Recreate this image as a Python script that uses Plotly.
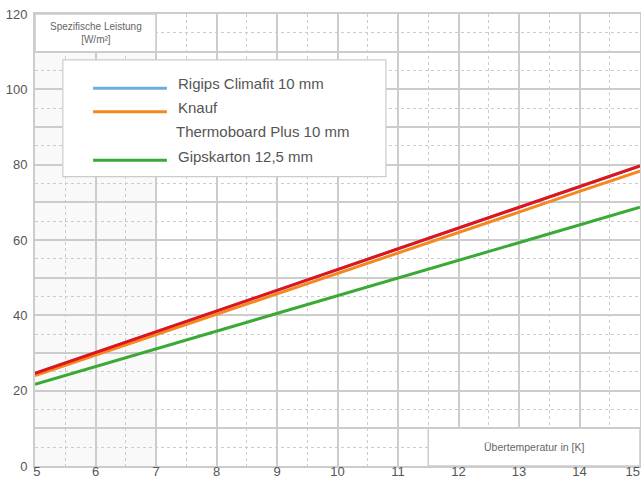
import plotly.graph_objects as go

# ---- data ----
x_vals = [5, 6, 7, 8, 9, 10, 11, 12, 13, 14, 15]
rigips = [24.6, 30.1, 35.6, 41.1, 46.6, 52.1, 57.6, 63.2, 68.7, 74.2, 79.7]
knauf = [24.0, 29.4, 34.9, 40.3, 45.8, 51.2, 56.6, 62.0, 67.4, 72.9, 78.3]
gips = [21.7, 26.4, 31.1, 35.8, 40.5, 45.2, 49.9, 54.6, 59.3, 64.0, 68.7]

legend_names = ["Rigips Climafit 10 mm", "Knauf", "Thermoboard Plus 10 mm", "Gipskarton 12,5 mm"]
y_title = "Spezifische Leistung<br>[W/m²]"
x_title = "Übertemperatur in [K]"
x_ticks = [5, 6, 7, 8, 9, 10, 11, 12, 13, 14, 15]
x_ticktext = ["\u00a05", "6", "7", "8", "9", "10", "11", "12", "13", "14", "15\u00a0\u00a0\u00a0\u00a0"]
y_ticks = [0, 10, 20, 30, 40, 50, 60, 70, 80, 90, 100, 110, 120]
y_ticktext = ["0", "", "20", "", "40", "", "60", "", "80", "", "100", "", "120"]

BLUE = "#6aaee0"
RED = "#e3131b"
ORANGE = "#f5871f"
GREEN = "#3aa935"
GRID = "#cccccc"
TXT = "#555555"
FONT = "Liberation Sans, Arial, sans-serif"

fig = go.Figure()
fig.add_trace(go.Scatter(x=x_vals, y=rigips, mode="lines", line=dict(color=BLUE, width=3), showlegend=False))
fig.add_trace(go.Scatter(x=x_vals, y=knauf, mode="lines", line=dict(color=ORANGE, width=3), showlegend=False))
fig.add_trace(go.Scatter(x=x_vals, y=gips, mode="lines", line=dict(color=GREEN, width=3), showlegend=False))
fig.add_trace(go.Scatter(x=x_vals, y=rigips, mode="lines", line=dict(color=RED, width=3), showlegend=False))

shapes = []
shapes.append(dict(type="rect", xref="x", yref="y", x0=5, x1=7, y0=0, y1=120,
                   fillcolor="#f9f9f9", line=dict(width=0), layer="below"))
shapes.append(dict(type="rect", xref="x", yref="y", x0=5, x1=7, y0=110, y1=120,
                   fillcolor="white", line=dict(color=GRID, width=1.5), layer="above"))
shapes.append(dict(type="rect", xref="x", yref="y", x0=11.5, x1=15, y0=0, y1=10,
                   fillcolor="white", line=dict(color=GRID, width=1.5), layer="above"))
shapes.append(dict(type="rect", xref="x", yref="y", x0=5.46, x1=10.8, y0=76.8, y1=107.8,
                   fillcolor="white", line=dict(color=GRID, width=1.2), layer="above"))
for yy, col in [(100.3, BLUE), (94.05, ORANGE), (81.2, GREEN)]:
    shapes.append(dict(type="line", xref="x", yref="y", x0=5.96, x1=7.18, y0=yy, y1=yy,
                       line=dict(color=col, width=3), layer="above"))

annotations = []
for name, xx, yy in [(legend_names[0], 7.33, 101.6), (legend_names[1], 7.33, 95.3),
                     (legend_names[2], 7.30, 88.7), (legend_names[3], 7.33, 82.3)]:
    annotations.append(dict(text=name, x=xx, y=yy, xref="x", yref="y", xanchor="left",
                            yanchor="middle", showarrow=False,
                            font=dict(family=FONT, size=15, color=TXT)))
annotations.append(dict(text=y_title, x=6, y=115, xref="x", yref="y", showarrow=False,
                        xanchor="center", yanchor="middle",
                        font=dict(family=FONT, size=10, color="#666666")))
annotations.append(dict(text=x_title, x=13.25, y=5, xref="x", yref="y", showarrow=False,
                        xanchor="center", yanchor="middle",
                        font=dict(family=FONT, size=10.5, color="#666666")))

fig.update_layout(
    width=641, height=479,
    margin=dict(l=35, r=1, t=14, b=13, autoexpand=False),
    paper_bgcolor="white", plot_bgcolor="white",
    showlegend=False,
    shapes=shapes, annotations=annotations,
    font=dict(family=FONT, size=13, color=TXT),
)
fig.update_xaxes(
    range=[5, 15], tickvals=x_ticks, ticktext=x_ticktext, automargin=False,
    showgrid=True, gridcolor=GRID, gridwidth=1.5,
    showline=True, linecolor=GRID, linewidth=2, mirror=True,
    ticks="", zeroline=False, tickfont=dict(size=13, color=TXT),
    ticklabelstandoff=-8, ticklabeloverflow="allow",
    minor=dict(dtick=0.5, tick0=5, showgrid=True, gridcolor=GRID, gridwidth=1, griddash="3px,3px"),
)
fig.update_yaxes(
    range=[0, 120], tickvals=y_ticks, ticktext=y_ticktext, automargin=False,
    showgrid=True, gridcolor=GRID, gridwidth=1.5,
    showline=True, linecolor=GRID, linewidth=2, mirror=True,
    ticks="outside", ticklen=3, tickcolor="rgba(0,0,0,0)", zeroline=False,
    tickfont=dict(size=13, color=TXT), ticklabeloverflow="allow",
    minor=dict(dtick=5, tick0=0, showgrid=True, gridcolor=GRID, gridwidth=1, griddash="3px,3px"),
)

fig.write_html("out.html", config={"displayModeBar": False},
               post_script="document.body.style.margin='0';document.body.style.overflow='hidden';")
